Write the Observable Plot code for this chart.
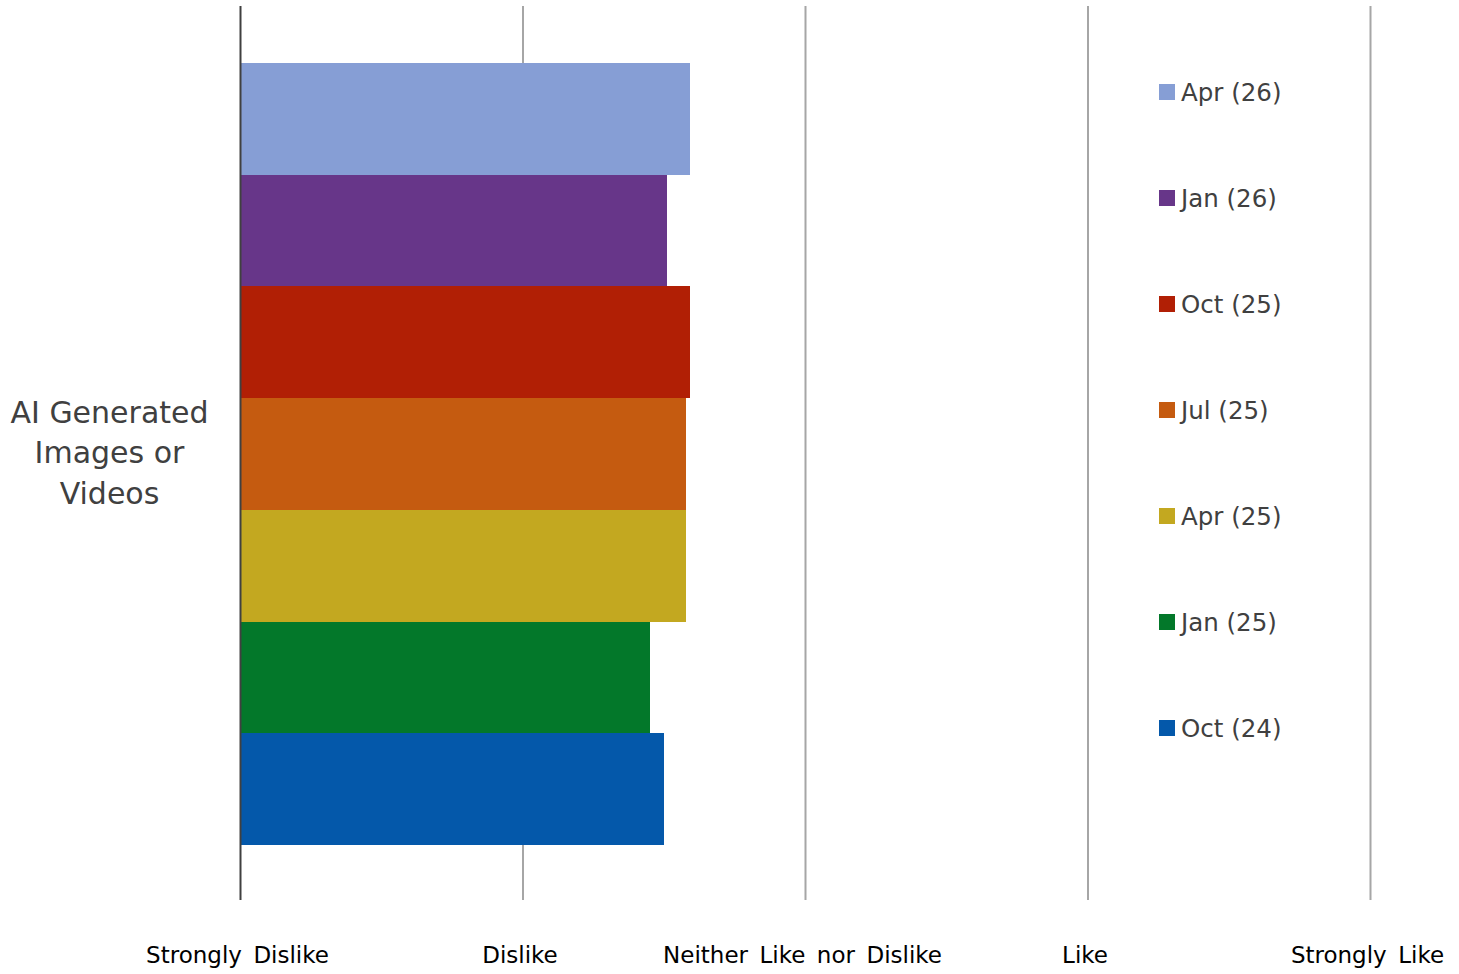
<!DOCTYPE html>
<html>
<head>
<meta charset="utf-8">
<script src="https://cdn.jsdelivr.net/npm/d3@7"></script>
<script src="https://cdn.jsdelivr.net/npm/@observablehq/plot@0.6"></script>
<style>
  html, body { margin: 0; padding: 0; background: #fff; }
  #wrap { position: relative; width: 1459px; height: 974px; font-family: "DejaVu Sans", Verdana, sans-serif; }
  #legend { position: absolute; left: 1159px; top: 0; }
  .li { position: absolute; left: 0; white-space: nowrap; display: flex; align-items: center; color: #404040; font-size: 24.5px; }
  .sw { width: 16px; height: 16px; margin-right: 6px; }
</style>
</head>
<body>
<div id="wrap"><div id="legend"></div></div>
<script>
const category = "AI Generated Images or Videos";
const series = ["Apr (26)", "Jan (26)", "Oct (25)", "Jul (25)", "Apr (25)", "Jan (25)", "Oct (24)"];
const values = [2.593, 2.512, 2.593, 2.579, 2.579, 2.451, 2.501];
const colors = ["#869ED5", "#673689", "#B11F05", "#C55B10", "#C3A820", "#03782A", "#0458AA"];
const tickValues = [1, 2, 3, 4, 5];
const tickLabels = ["Strongly  Dislike", "Dislike", "Neither  Like  nor  Dislike", "Like", "Strongly  Like"];

const data = series.map((s, i) => ({series: s, value: values[i], category}));

const chart = Plot.plot({
  width: 1459,
  height: 974,
  marginLeft: 240,
  marginRight: 89,
  marginTop: 6,
  marginBottom: 74,
  style: {fontFamily: "DejaVu Sans, Verdana, sans-serif", background: "#fff"},
  x: {domain: [1, 5]},
  y: {domain: series, range: [63, 845], padding: 0, round: false, axis: null},
  color: {domain: series, range: colors},
  marks: [
    Plot.ruleX(tickValues.slice(1), {stroke: "#a6a6a6", strokeWidth: 2}),
    Plot.barX(data, {x1: 1, x2: "value", y: "series", fill: "series", shapeRendering: "crispEdges"}),
    Plot.ruleX([tickValues[0]], {stroke: "#404040", strokeWidth: 2}),
    Plot.axisX(tickValues, {
      tickSize: 0, tickPadding: 46, fontSize: 23, fill: "#000", label: null, dx: -3,
      tickFormat: (d) => tickLabels[tickValues.indexOf(d)].replace(/  /g, "\u2002")
    }),
    Plot.text([category], {
      frameAnchor: "left", dx: -131, dy: -3, text: (d) => d,
      lineWidth: 7, lineHeight: 1.34, fontSize: 30, fill: "#404040", textAnchor: "middle"
    })
  ]
});
document.getElementById("wrap").prepend(chart);
chart.style.position = "absolute";
chart.style.left = "0";
chart.style.top = "0";

const legend = document.getElementById("legend");
const legendCenters = [92, 198, 304, 410, 516, 622, 728];
series.forEach((s, i) => {
  const row = document.createElement("div");
  row.className = "li";
  row.style.top = (legendCenters[i] - 15) + "px";
  row.style.height = "30px";
  const sw = document.createElement("div");
  sw.className = "sw";
  sw.style.background = colors[i];
  const t = document.createElement("span");
  t.textContent = s;
  row.appendChild(sw);
  row.appendChild(t);
  legend.appendChild(row);
});
</script>
</body>
</html>
